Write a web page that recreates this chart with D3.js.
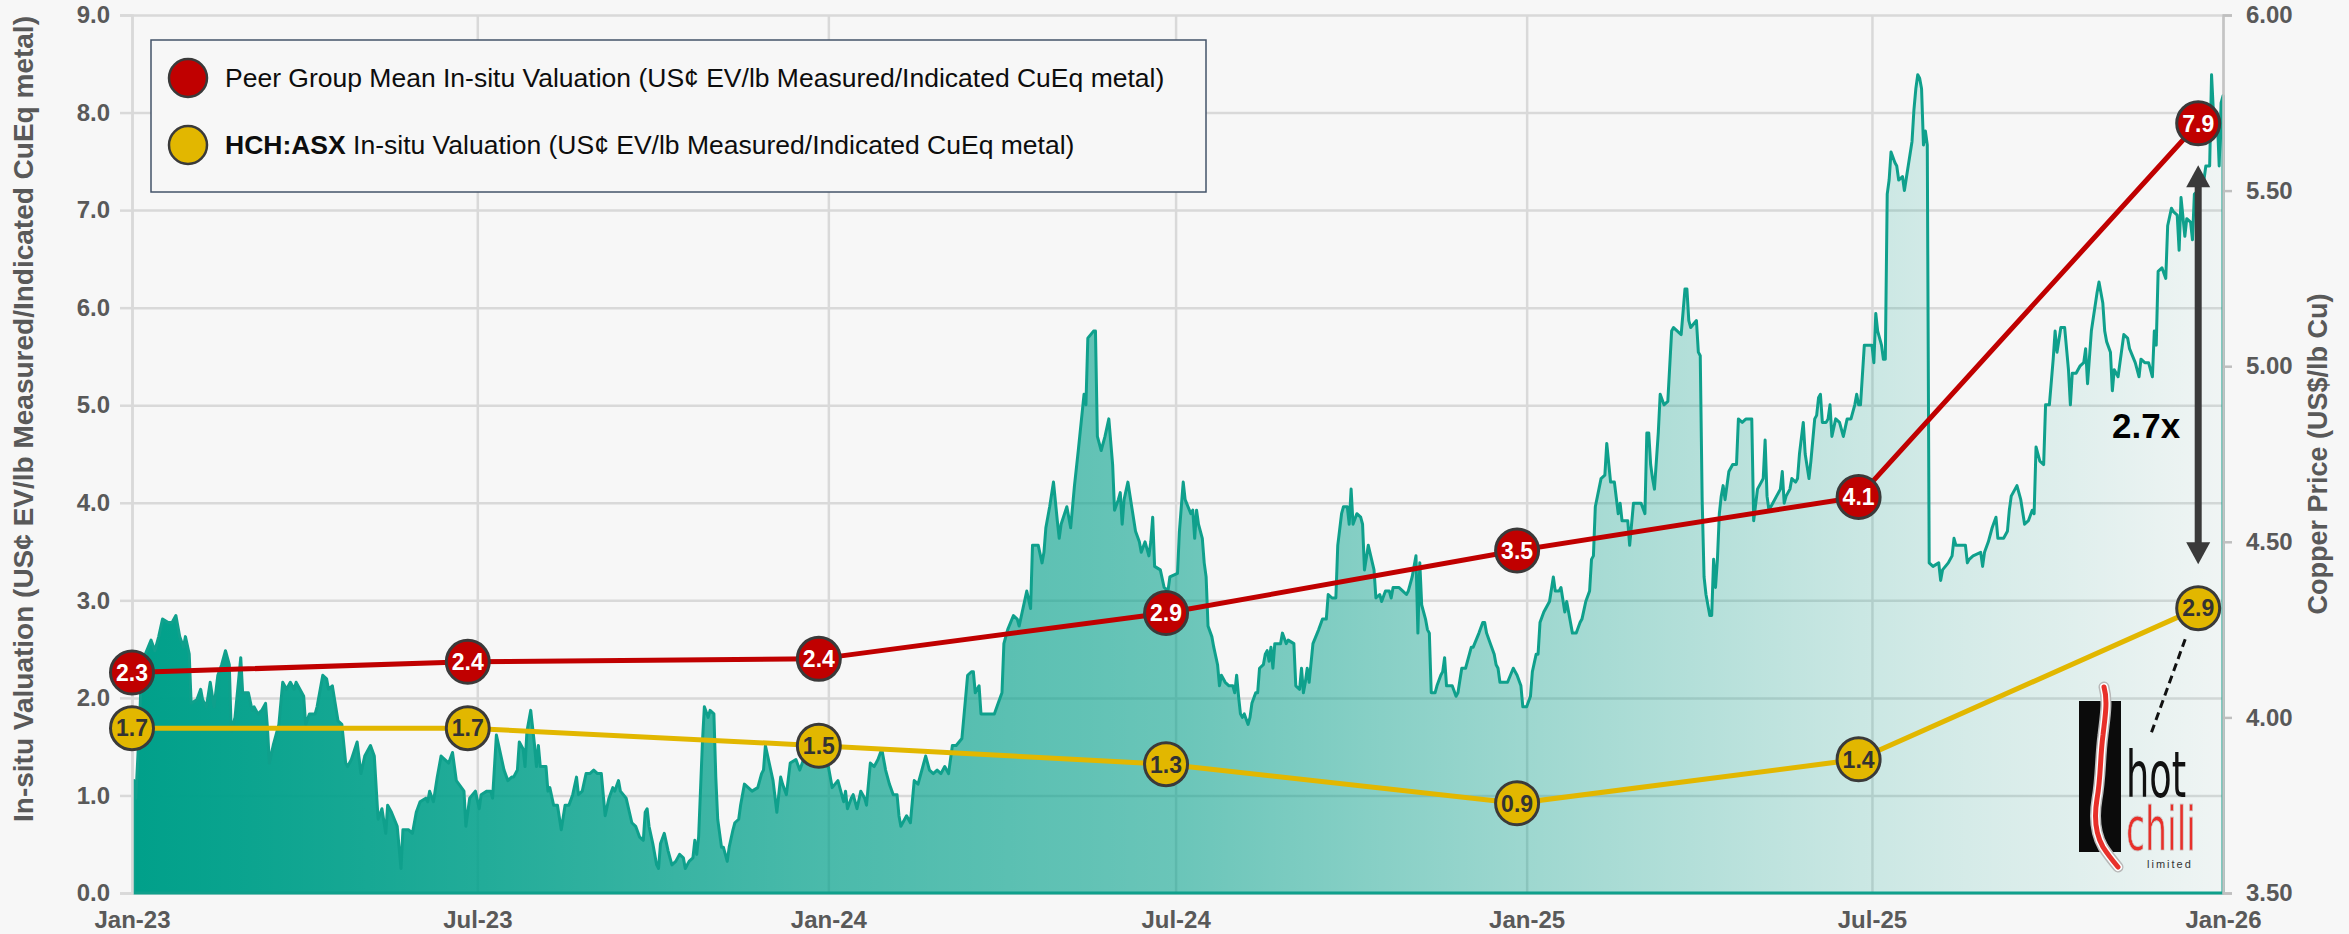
<!doctype html>
<html lang="en">
<head>
<meta charset="utf-8">
<title>HCH in-situ valuation vs copper price</title>
<script src="https://d3js.org/d3.v7.min.js"></script>
<style>
  body { margin: 0; background: #f7f7f7; }
  svg { display: block; font-family: "Liberation Sans", Arial, sans-serif; }
  .tick text { font-weight: bold; font-size: 24px; fill: #595959; }
</style>
</head>
<body>
<svg></svg>
<script>
// valuation points (half-yearly)
var valueDates = ["23-01-01", "23-06-26", "23-12-27", "24-06-26", "24-12-27", "25-06-24", "25-12-19"];
var peerMean = [2.26, 2.37, 2.40, 2.87, 3.51, 4.06, 7.89];
var hchValue = [1.69, 1.69, 1.51, 1.32, 0.92, 1.37, 2.92];

var leftTicks = [0, 1, 2, 3, 4, 5, 6, 7, 8, 9];
var rightTicks = [3.5, 4.0, 4.5, 5.0, 5.5, 6.0];
var xTickDates = ["23-01-01", "23-07-01", "24-01-01", "24-07-01", "25-01-01", "25-07-01", "26-01-01"];

var legendLabels = ["Peer Group Mean In-situ Valuation (US¢ EV/lb Measured/Indicated CuEq metal)",
                    " In-situ Valuation (US¢ EV/lb Measured/Indicated CuEq metal)"];

// copper price, US$/lb
var copper = [
["23-01-02",3.82],["23-01-03",3.77],["23-01-05",3.99],["23-01-06",4.14],["23-01-08",4.18],["23-01-11",4.22],["23-01-13",4.19],["23-01-15",4.23],["23-01-17",4.28],["23-01-20",4.27],["23-01-22",4.27],["23-01-24",4.29],["23-01-26",4.23],["23-01-28",4.20],["23-01-29",4.23],["23-01-31",4.18],
["23-02-01",4.04],["23-02-04",4.05],["23-02-06",4.08],["23-02-07",4.05],["23-02-09",4.03],["23-02-11",4.10],["23-02-13",4.03],["23-02-15",4.12],["23-02-17",4.15],["23-02-19",4.19],["23-02-21",4.15],["23-02-22",3.96],["23-02-24",4.00],["23-02-27",4.17],["23-02-28",4.07],
["23-03-03",4.07],["23-03-05",4.02],["23-03-06",4.03],["23-03-08",4.01],["23-03-10",4.02],["23-03-12",4.04],["23-03-13",3.97],["23-03-14",3.87],["23-03-16",3.92],["23-03-19",3.98],["23-03-21",4.10],["23-03-23",4.08],["23-03-25",4.10],["23-03-27",4.08],["23-03-28",4.10],["23-03-31",4.07],
["23-04-01",4.06],["23-04-02",3.98],["23-04-04",4.01],["23-04-07",4.01],["23-04-08",4.03],["23-04-11",4.12],["23-04-13",4.11],["23-04-14",4.08],["23-04-16",4.09],["23-04-19",3.99],["23-04-21",3.98],["23-04-23",3.87],["23-04-24",3.86],["23-04-26",3.88],["23-04-29",3.93],
["23-05-01",3.84],["23-05-03",3.89],["23-05-06",3.92],["23-05-08",3.89],["23-05-10",3.71],["23-05-12",3.74],["23-05-14",3.67],["23-05-15",3.75],["23-05-17",3.73],["23-05-20",3.69],["23-05-22",3.57],["23-05-23",3.68],["23-05-26",3.68],["23-05-28",3.67],["23-05-30",3.73],
["23-06-01",3.76],["23-06-04",3.77],["23-06-05",3.76],["23-06-06",3.79],["23-06-08",3.76],["23-06-10",3.83],["23-06-12",3.89],["23-06-14",3.88],["23-06-16",3.87],["23-06-18",3.90],["23-06-20",3.82],["23-06-24",3.79],["23-06-25",3.69],["23-06-27",3.77],["23-06-30",3.79],
["23-07-02",3.74],["23-07-03",3.78],["23-07-06",3.79],["23-07-08",3.79],["23-07-09",3.77],["23-07-11",3.95],["23-07-13",3.90],["23-07-15",3.85],["23-07-17",3.82],["23-07-19",3.83],["23-07-20",3.83],["23-07-22",3.85],["23-07-23",3.93],["23-07-25",3.91],["23-07-26",3.86],["23-07-27",3.96],["23-07-29",4.02],["23-07-31",3.92],
["23-08-01",3.86],["23-08-02",3.92],["23-08-03",3.86],["23-08-06",3.86],["23-08-07",3.79],["23-08-08",3.80],["23-08-10",3.75],["23-08-12",3.75],["23-08-14",3.68],["23-08-16",3.75],["23-08-18",3.75],["23-08-20",3.78],["23-08-22",3.83],["23-08-23",3.78],["23-08-25",3.79],["23-08-27",3.84],["23-08-29",3.84],["23-08-31",3.85],
["23-09-02",3.84],["23-09-04",3.84],["23-09-06",3.72],["23-09-08",3.77],["23-09-10",3.80],["23-09-11",3.79],["23-09-13",3.82],["23-09-14",3.79],["23-09-17",3.77],["23-09-20",3.70],["23-09-22",3.69],["23-09-24",3.66],["23-09-26",3.65],["23-09-27",3.73],["23-09-28",3.74],["23-09-29",3.69],
["23-10-01",3.64],["23-10-03",3.58],["23-10-04",3.57],["23-10-05",3.64],["23-10-07",3.67],["23-10-09",3.62],["23-10-11",3.58],["23-10-13",3.59],["23-10-15",3.61],["23-10-17",3.60],["23-10-18",3.57],["23-10-20",3.59],["23-10-22",3.60],["23-10-23",3.65],["23-10-24",3.61],["23-10-25",3.66],["23-10-27",3.93],["23-10-28",4.03],["23-10-30",4.00],["23-10-31",4.02],
["23-11-02",4.01],["23-11-03",3.83],["23-11-04",3.71],["23-11-06",3.63],["23-11-07",3.63],["23-11-09",3.59],["23-11-10",3.63],["23-11-12",3.68],["23-11-13",3.70],["23-11-15",3.71],["23-11-16",3.75],["23-11-18",3.81],["23-11-20",3.80],["23-11-22",3.79],["23-11-25",3.80],["23-11-27",3.84],["23-11-28",3.85],["23-11-29",3.92],
["23-12-01",3.87],["23-12-03",3.82],["23-12-05",3.73],["23-12-07",3.83],["23-12-08",3.81],["23-12-10",3.78],["23-12-12",3.87],["23-12-15",3.88],["23-12-17",3.85],["23-12-19",3.88],["23-12-24",3.87],
["24-01-01",3.86],["24-01-03",3.80],["24-01-06",3.82],["24-01-09",3.76],["24-01-10",3.79],["24-01-11",3.74],["24-01-13",3.77],["24-01-14",3.78],["24-01-16",3.74],["24-01-18",3.79],["24-01-20",3.77],["24-01-21",3.75],["24-01-23",3.87],["24-01-25",3.86],["24-01-27",3.88],["24-01-29",3.91],["24-01-31",3.85],
["24-02-02",3.81],["24-02-04",3.78],["24-02-06",3.78],["24-02-07",3.72],["24-02-08",3.69],["24-02-09",3.70],["24-02-11",3.72],["24-02-13",3.70],["24-02-15",3.82],["24-02-17",3.81],["24-02-19",3.85],["24-02-21",3.89],["24-02-23",3.85],["24-02-25",3.84],["24-02-27",3.85],["24-02-29",3.84],
["24-03-02",3.86],["24-03-04",3.84],["24-03-06",3.92],["24-03-08",3.92],["24-03-11",3.94],["24-03-13",4.06],["24-03-14",4.12],["24-03-16",4.13],["24-03-17",4.13],["24-03-18",4.07],["24-03-20",4.09],["24-03-21",4.01],["24-03-23",4.01],["24-03-25",4.01],["24-03-28",4.01],["24-03-30",4.04],
["24-04-01",4.07],["24-04-02",4.21],["24-04-04",4.25],["24-04-07",4.29],["24-04-09",4.28],["24-04-10",4.26],["24-04-12",4.31],["24-04-14",4.36],["24-04-16",4.31],["24-04-17",4.49],["24-04-20",4.49],["24-04-22",4.44],["24-04-23",4.47],["24-04-24",4.54],["24-04-26",4.60],["24-04-28",4.67],["24-04-30",4.56],
["24-05-01",4.51],["24-05-02",4.55],["24-05-05",4.60],["24-05-07",4.54],["24-05-09",4.66],["24-05-11",4.76],["24-05-14",4.92],["24-05-15",4.89],["24-05-16",5.08],["24-05-19",5.10],["24-05-20",5.10],["24-05-21",4.80],["24-05-23",4.76],["24-05-25",4.80],["24-05-27",4.85],["24-05-29",4.72],["24-05-30",4.59],
["24-06-01",4.62],["24-06-02",4.64],["24-06-03",4.55],["24-06-04",4.62],["24-06-06",4.67],["24-06-08",4.60],["24-06-10",4.53],["24-06-12",4.50],["24-06-13",4.47],["24-06-15",4.50],["24-06-17",4.46],["24-06-18",4.50],["24-06-19",4.57],["24-06-20",4.43],["24-06-23",4.42],["24-06-25",4.37],["24-06-27",4.36],["24-06-28",4.40],
["24-07-02",4.41],["24-07-03",4.53],["24-07-05",4.67],["24-07-06",4.62],["24-07-09",4.58],["24-07-10",4.59],["24-07-11",4.51],["24-07-12",4.59],["24-07-13",4.55],["24-07-15",4.51],["24-07-16",4.44],["24-07-17",4.40],["24-07-18",4.26],["24-07-20",4.23],["24-07-21",4.20],["24-07-23",4.15],["24-07-24",4.09],["24-07-25",4.12],["24-07-27",4.10],["24-07-29",4.09],["24-07-31",4.09],
["24-08-01",4.07],["24-08-02",4.12],["24-08-03",4.06],["24-08-04",4.01],["24-08-05",4.00],["24-08-06",4.01],["24-08-08",3.98],["24-08-09",4.00],["24-08-10",4.04],["24-08-12",4.07],["24-08-13",4.07],["24-08-14",4.14],["24-08-16",4.15],["24-08-17",4.18],["24-08-18",4.19],["24-08-19",4.16],["24-08-20",4.20],["24-08-21",4.14],["24-08-22",4.21],["24-08-25",4.21],["24-08-26",4.24],["24-08-28",4.21],["24-08-29",4.22],
["24-09-01",4.21],["24-09-02",4.09],["24-09-04",4.08],["24-09-05",4.14],["24-09-06",4.07],["24-09-07",4.10],["24-09-08",4.14],["24-09-09",4.10],["24-09-11",4.21],["24-09-14",4.25],["24-09-16",4.28],["24-09-18",4.28],["24-09-19",4.35],["24-09-21",4.34],["24-09-23",4.34],["24-09-24",4.49],["24-09-26",4.58],["24-09-27",4.60],["24-09-29",4.60],["24-09-30",4.55],
["24-10-01",4.65],["24-10-02",4.55],["24-10-04",4.58],["24-10-06",4.57],["24-10-07",4.55],["24-10-08",4.42],["24-10-10",4.49],["24-10-13",4.42],["24-10-14",4.34],["24-10-16",4.35],["24-10-17",4.33],["24-10-19",4.36],["24-10-21",4.36],["24-10-22",4.34],["24-10-23",4.37],["24-10-26",4.37],["24-10-28",4.36],["24-10-30",4.35],["24-10-31",4.36],
["24-11-02",4.40],["24-11-04",4.46],["24-11-05",4.24],["24-11-06",4.44],["24-11-07",4.32],["24-11-09",4.28],["24-11-10",4.25],["24-11-11",4.24],["24-11-12",4.07],["24-11-14",4.07],["24-11-15",4.09],["24-11-17",4.12],["24-11-18",4.13],["24-11-19",4.17],["24-11-20",4.09],["24-11-23",4.09],["24-11-25",4.06],["24-11-26",4.07],["24-11-28",4.14],["24-11-30",4.14],
["24-12-03",4.20],["24-12-04",4.20],["24-12-07",4.24],["24-12-09",4.27],["24-12-10",4.27],["24-12-11",4.24],["24-12-13",4.21],["24-12-15",4.18],["24-12-16",4.15],["24-12-17",4.14],["24-12-18",4.10],["24-12-21",4.10],["24-12-22",4.10],["24-12-25",4.14],["24-12-27",4.12],["24-12-29",4.09],["24-12-30",4.03],
["25-01-01",4.03],["25-01-03",4.06],["25-01-04",4.13],["25-01-06",4.18],["25-01-07",4.18],["25-01-08",4.27],["25-01-10",4.30],["25-01-12",4.32],["25-01-13",4.33],["25-01-15",4.40],["25-01-16",4.36],["25-01-18",4.36],["25-01-19",4.37],["25-01-21",4.30],["25-01-22",4.33],["25-01-23",4.30],["25-01-25",4.24],["25-01-27",4.24],["25-01-29",4.27],["25-01-30",4.28],
["25-02-01",4.33],["25-02-03",4.36],["25-02-04",4.45],["25-02-05",4.46],["25-02-06",4.60],["25-02-09",4.68],["25-02-11",4.69],["25-02-12",4.78],["25-02-14",4.67],["25-02-16",4.67],["25-02-18",4.58],["25-02-19",4.61],["25-02-20",4.56],["25-02-23",4.56],["25-02-24",4.49],["25-02-26",4.61],["25-02-28",4.61],
["25-03-02",4.61],["25-03-04",4.58],["25-03-05",4.81],["25-03-06",4.81],["25-03-07",4.72],["25-03-08",4.68],["25-03-09",4.65],["25-03-11",4.81],["25-03-12",4.92],["25-03-14",4.89],["25-03-16",4.90],["25-03-18",5.10],["25-03-19",5.11],["25-03-23",5.09],["25-03-25",5.22],["25-03-26",5.22],["25-03-27",5.13],["25-03-28",5.11],["25-03-31",5.13],
["25-04-01",5.04],["25-04-02",5.03],["25-04-03",4.62],["25-04-04",4.40],["25-04-05",4.35],["25-04-07",4.29],["25-04-08",4.29],["25-04-09",4.45],["25-04-10",4.37],["25-04-11",4.45],["25-04-12",4.58],["25-04-13",4.63],["25-04-14",4.66],["25-04-15",4.62],["25-04-17",4.70],["25-04-19",4.72],["25-04-21",4.72],["25-04-22",4.85],["25-04-24",4.84],["25-04-26",4.85],["25-04-29",4.85],["25-04-30",4.56],
["25-05-02",4.65],["25-05-04",4.67],["25-05-05",4.68],["25-05-06",4.79],["25-05-07",4.63],["25-05-08",4.59],["25-05-10",4.61],["25-05-12",4.63],["25-05-14",4.65],["25-05-15",4.70],["25-05-16",4.61],["25-05-17",4.63],["25-05-19",4.65],["25-05-20",4.68],["25-05-22",4.67],["25-05-23",4.68],["25-05-24",4.75],["25-05-26",4.84],["25-05-27",4.75],["25-05-29",4.68],["25-05-30",4.73],
["25-06-01",4.85],["25-06-02",4.86],["25-06-03",4.91],["25-06-04",4.92],["25-06-05",4.84],["25-06-07",4.84],["25-06-08",4.85],["25-06-09",4.89],["25-06-10",4.80],["25-06-12",4.85],["25-06-14",4.84],["25-06-15",4.82],["25-06-16",4.80],["25-06-18",4.85],["25-06-20",4.85],["25-06-22",4.89],["25-06-23",4.92],["25-06-24",4.89],["25-06-25",4.89],["25-06-27",5.06],["25-06-29",5.06],
["25-07-01",5.06],["25-07-02",5.01],["25-07-03",5.15],["25-07-04",5.10],["25-07-06",5.06],["25-07-07",5.02],["25-07-08",5.02],["25-07-09",5.49],["25-07-10",5.53],["25-07-11",5.61],["25-07-13",5.58],["25-07-14",5.57],["25-07-15",5.53],["25-07-17",5.54],["25-07-18",5.50],["25-07-20",5.57],["25-07-22",5.64],["25-07-23",5.73],["25-07-24",5.79],["25-07-25",5.83],["25-07-26",5.82],["25-07-27",5.79],["25-07-28",5.63],["25-07-29",5.67],["25-07-30",5.63],["25-07-31",4.44],
["25-08-02",4.43],["25-08-05",4.44],["25-08-06",4.39],["25-08-07",4.42],["25-08-10",4.44],["25-08-12",4.46],["25-08-13",4.51],["25-08-14",4.49],["25-08-16",4.49],["25-08-19",4.49],["25-08-20",4.44],["25-08-21",4.45],["25-08-23",4.46],["25-08-27",4.47],["25-08-28",4.43],["25-08-29",4.47],["25-08-31",4.50],
["25-09-02",4.54],["25-09-04",4.57],["25-09-05",4.51],["25-09-08",4.51],["25-09-10",4.53],["25-09-11",4.59],["25-09-12",4.63],["25-09-15",4.66],["25-09-17",4.62],["25-09-19",4.55],["25-09-21",4.56],["25-09-23",4.59],["25-09-24",4.58],["25-09-25",4.77],["25-09-27",4.73],["25-09-29",4.72],["25-09-30",4.89],
["25-10-02",4.89],["25-10-04",5.02],["25-10-05",5.10],["25-10-06",5.04],["25-10-08",5.11],["25-10-10",5.11],["25-10-12",4.99],["25-10-13",4.89],["25-10-14",4.98],["25-10-16",4.98],["25-10-18",5.00],["25-10-20",5.01],["25-10-21",5.05],["25-10-22",4.95],["25-10-24",5.10],["25-10-27",5.21],["25-10-28",5.24],["25-10-30",5.18],["25-10-31",5.10],
["25-11-01",5.07],["25-11-03",5.04],["25-11-04",4.93],["25-11-05",4.99],["25-11-07",4.97],["25-11-10",5.09],["25-11-12",5.08],["25-11-13",5.05],["25-11-16",5.01],["25-11-18",4.97],["25-11-19",5.02],["25-11-21",5.01],["25-11-23",5.01],["25-11-25",4.97],["25-11-26",5.10],["25-11-27",5.06],["25-11-28",5.27],["25-11-30",5.28],
["25-12-02",5.25],["25-12-03",5.40],["25-12-05",5.45],["25-12-06",5.44],["25-12-08",5.43],["25-12-09",5.33],["25-12-10",5.48],["25-12-12",5.37],["25-12-13",5.42],["25-12-15",5.41],["25-12-16",5.36],["25-12-17",5.49],["25-12-19",5.50],["25-12-20",5.52],["25-12-22",5.53],["25-12-23",5.57],["25-12-25",5.57],["25-12-26",5.83],["25-12-27",5.72],["25-12-29",5.71],["25-12-30",5.57],["25-12-31",5.75],
["26-01-01",5.77]
];

var W = 2349, H = 934;
var mLeft = 132, mRight = 2223, mTop = 15, mBottom = 893;
var red = "#c00000", gold = "#e2b700", teal = "#0fa08c", edge = "#3a3a3a", grid = "#d9d9d9";

var parse = d3.timeParse("%y-%m-%d");

var svg = d3.select("svg").attr("width", W).attr("height", H);
svg.append("rect").attr("width", W).attr("height", H).attr("fill", "#f7f7f7");

var x = d3.scaleTime().domain([parse("23-01-01"), parse("26-01-01")]).range([mLeft, mRight]);
var yL = d3.scaleLinear().domain([0, 9]).range([mBottom, mTop]);
var yR = d3.scaleLinear().domain([3.5, 6]).range([mBottom, mTop]);

// gridlines
svg.append("g")
  .attr("transform", "translate(" + mLeft + ",0)")
  .call(d3.axisLeft(yL).tickValues(leftTicks).tickSize(-(mRight - mLeft)).tickFormat(""))
  .call(function(g){ g.select(".domain").remove() })
  .selectAll("line").attr("stroke", grid).attr("stroke-width", 2.5);

svg.append("g")
  .attr("transform", "translate(0," + mBottom + ")")
  .call(d3.axisBottom(x).tickValues(xTickDates.map(parse)).tickSize(-(mBottom - mTop)).tickFormat(""))
  .call(function(g){ g.select(".domain").remove() })
  .selectAll("line").attr("stroke", grid).attr("stroke-width", 2.5);

// copper area with fading fill
var defs = svg.append("defs");
var grad = defs.append("linearGradient").attr("id", "cuFill")
  .attr("x1", 0).attr("x2", 1).attr("y1", 0).attr("y2", 0);
[[0, 1], [0.17, 0.86], [0.33, 0.7], [0.5, 0.57], [0.67, 0.36], [0.83, 0.18], [1, 0.03]].forEach(function(s){
  grad.append("stop").attr("offset", s[0]).attr("stop-color", "#00a08a").attr("stop-opacity", s[1]);
});

var cu = copper.map(function(d){ return {date: parse(d[0]), price: d[1]} });

var area = d3.area()
  .x(function(d){ return x(d.date) })
  .y0(mBottom)
  .y1(function(d){ return yR(d.price) });

svg.append("path")
  .datum(cu)
  .attr("d", area)
  .attr("fill", "url(#cuFill)")
  .attr("stroke", teal)
  .attr("stroke-width", 3)
  .attr("stroke-linejoin", "round");

// axes
var axL = svg.append("g")
  .attr("transform", "translate(" + mLeft + ",0)")
  .call(d3.axisLeft(yL).tickValues(leftTicks).tickFormat(d3.format(".1f")).tickSize(12).tickPadding(10));
axL.select(".domain").attr("stroke", grid).attr("stroke-width", 2.5);
axL.selectAll(".tick line").attr("stroke", grid).attr("stroke-width", 2.5);

var axR = svg.append("g")
  .attr("transform", "translate(" + mRight + ",0)")
  .call(d3.axisRight(yR).tickValues(rightTicks).tickFormat(d3.format(".2f")).tickSize(9).tickPadding(14));
axR.select(".domain").attr("stroke", "#c4c4c4").attr("stroke-width", 2.5);
axR.selectAll(".tick line").attr("stroke", "#bfbfbf").attr("stroke-width", 2.5);

var axB = svg.append("g")
  .attr("transform", "translate(0," + mBottom + ")")
  .call(d3.axisBottom(x).tickValues(xTickDates.map(parse)).tickFormat(d3.timeFormat("%b-%y")).tickSize(0).tickPadding(18));
axB.select(".domain").remove();

svg.append("text")
  .attr("transform", "translate(33,419) rotate(-90)")
  .attr("text-anchor", "middle")
  .attr("font-weight", "bold").attr("font-size", 28).attr("fill", "#595959")
  .text("In-situ Valuation (US¢ EV/lb Measured/Indicated CuEq metal)");

svg.append("text")
  .attr("transform", "translate(2327," + (mTop + mBottom) / 2 + ") rotate(-90)")
  .attr("text-anchor", "middle")
  .attr("font-weight", "bold").attr("font-size", 27).attr("fill", "#595959")
  .text("Copper Price (US$/lb Cu)");

// legend
var lg = svg.append("g");
lg.append("rect").attr("x", 151).attr("y", 40).attr("width", 1055).attr("height", 152)
  .attr("fill", "#f7f7f7").attr("stroke", "#44546a").attr("stroke-width", 1.5);
[red, gold].forEach(function(c, i){
  lg.append("circle").attr("cx", 188).attr("cy", 78 + i * 67).attr("r", 19)
    .attr("fill", c).attr("stroke", edge).attr("stroke-width", 2.5);
});
lg.append("text").attr("x", 225).attr("y", 87).attr("font-size", 26.5).attr("fill", "#0d0d0d")
  .text(legendLabels[0]);
var t2 = lg.append("text").attr("x", 225).attr("y", 154).attr("font-size", 26.5).attr("fill", "#0d0d0d");
t2.append("tspan").attr("font-weight", "bold").text("HCH:ASX");
t2.append("tspan").text(legendLabels[1]);

// valuation lines + markers
var dates = valueDates.map(parse);
var line = d3.line()
  .x(function(d){ return x(d.date) })
  .y(function(d){ return yL(d.v) });

function series(vals, col, txt) {
  var pts = vals.map(function(v, i){ return {date: dates[i], v: v} });
  svg.append("path").datum(pts).attr("d", line)
    .attr("fill", "none").attr("stroke", col).attr("stroke-width", 5);
  var g = svg.append("g").selectAll("g").data(pts).enter().append("g")
    .attr("transform", function(d){ return "translate(" + x(d.date) + "," + yL(d.v) + ")" });
  g.append("circle").attr("r", 21.5).attr("fill", col).attr("stroke", edge).attr("stroke-width", 3);
  g.append("text").attr("text-anchor", "middle").attr("dy", "0.36em")
    .attr("font-weight", "bold").attr("font-size", 23).attr("fill", txt)
    .text(function(d){ return d3.format(".1f")(d.v) });
}
series(peerMean, red, "#ffffff");
series(hchValue, gold, "#333333");

// 2.7x arrow
var last = peerMean.length - 1;
var ax = x(dates[last]);
var yTop = yL(peerMean[last]) + 42, yBot = yL(hchValue[last]) - 44;
var ar = svg.append("g").attr("fill", edge);
ar.append("rect").attr("x", ax - 3.5).attr("y", yTop + 18).attr("width", 7).attr("height", yBot - yTop - 36);
ar.append("path").attr("d", "M" + ax + "," + yTop + "l12,22h-24z");
ar.append("path").attr("d", "M" + ax + "," + yBot + "l12,-22h-24z");

svg.append("text")
  .attr("x", ax - 18).attr("y", 438)
  .attr("text-anchor", "end")
  .attr("font-weight", "bold").attr("font-size", 35).attr("fill", "#000")
  .text(d3.format(".1f")(peerMean[last] / hchValue[last]) + "x");

// dashed pointer to logo
var hy = yL(hchValue[last]);
svg.append("line")
  .attr("x1", ax - 13).attr("y1", hy + 31).attr("x2", ax - 47).attr("y2", hy + 125)
  .attr("stroke", "#111").attr("stroke-width", 3).attr("stroke-dasharray", "8,5");

// hot chili logo
var logo = svg.append("g").attr("transform", "translate(2079,687)");
logo.append("rect").attr("x", 0).attr("y", 14).attr("width", 42).attr("height", 151).attr("fill", "#0b0b0b");
var chiliPath = "M25,0 C29,14 26,30 24,48 C21,70 22,90 18,112 C15,130 16,146 24,160 C29,168 34,174 39,180";
logo.append("path").attr("d", chiliPath).attr("fill", "none").attr("stroke", "#b8b8b8").attr("stroke-width", 11).attr("stroke-linecap", "round");
logo.append("path").attr("d", chiliPath).attr("fill", "none").attr("stroke", "#ffffff").attr("stroke-width", 8).attr("stroke-linecap", "round");
logo.append("path").attr("d", chiliPath).attr("fill", "none").attr("stroke", "#e8302a").attr("stroke-width", 5).attr("stroke-linecap", "round");
logo.append("text").attr("x", 47).attr("y", 110)
  .attr("font-family", "'Liberation Sans Narrow', 'DejaVu Sans Condensed', sans-serif")
  .attr("font-size", 64).attr("fill", "#111").attr("textLength", 60).attr("lengthAdjust", "spacingAndGlyphs")
  .text("hot");
logo.append("text").attr("x", 47).attr("y", 163)
  .attr("font-family", "'Liberation Sans Narrow', 'DejaVu Sans Condensed', sans-serif")
  .attr("font-size", 60).attr("fill", "#e8302a").attr("stroke", "#cfcfcf").attr("stroke-width", 0.8)
  .attr("textLength", 70).attr("lengthAdjust", "spacingAndGlyphs")
  .text("chili");
logo.append("text").attr("x", 68).attr("y", 181)
  .attr("font-size", 11).attr("fill", "#333").attr("letter-spacing", 2)
  .text("limited");
</script>
</body>
</html>
